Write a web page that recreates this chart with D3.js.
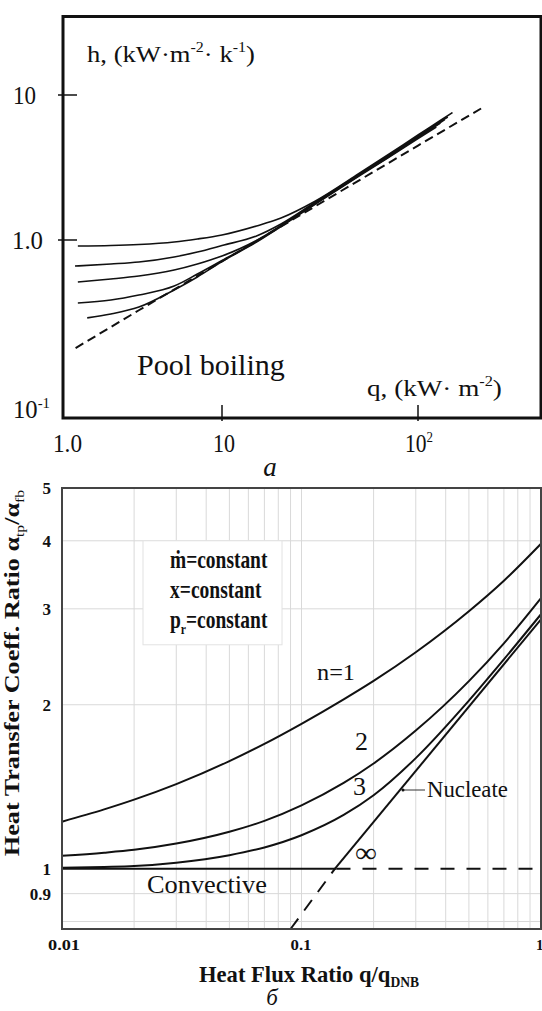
<!DOCTYPE html>
<html>
<head>
<meta charset="utf-8">
<title>Boiling heat transfer</title>
<script src="https://d3js.org/d3.v7.min.js"></script>
<style>
body { margin: 0; background: #fff; }
svg { display: block; }
text { font-family: "Liberation Serif", "Times New Roman", serif; fill: #111; }
</style>
</head>
<body>
<script type="text/javascript">

var width = 542,
    height = 1011;

// ---- chart a: pool boiling, h vs q ----
var curveQ = [
  [1.24, 2, 3, 5, 7, 10, 15, 20, 30, 50, 70, 100, 130, 150],
  [1.19, 2, 3, 5, 7, 10, 15, 20, 30, 50, 70, 100, 130, 142],
  [1.24, 2, 3, 5, 7, 10, 15, 20, 30, 50, 70, 100, 130, 137],
  [1.24, 2, 3, 5, 7, 10, 15, 20, 30, 50, 70, 100, 130],
  [1.42, 2, 3, 5, 7, 10, 15, 20, 30, 50, 70, 100, 124]
];
var curveH = [
  [0.925, 0.931, 0.943, 0.974, 1.016, 1.083, 1.249, 1.418, 1.858, 2.874, 3.857, 5.30, 6.67, 7.57],
  [0.714, 0.733, 0.752, 0.803, 0.856, 0.931, 1.066, 1.289, 1.828, 2.829, 3.796, 5.21, 6.56, 7.05],
  [0.581, 0.604, 0.628, 0.678, 0.733, 0.813, 0.994, 1.259, 1.80, 2.807, 3.736, 5.13, 6.46, 6.78],
  [0.443, 0.460, 0.491, 0.551, 0.644, 0.767, 0.981, 1.249, 1.785, 2.785, 3.707, 5.09, 6.41],
  [0.365, 0.384, 0.420, 0.524, 0.620, 0.757, 0.974, 1.239, 1.771, 2.763, 3.678, 5.01, 6.02]
];
var poolQ = [1.2, 3, 10, 15, 30, 100, 212];
var poolH = [0.247, 0.403, 0.759, 0.988, 1.713, 4.48, 8.13];
var aTicksH = [1, 10];
var aTicksQ = [10, 100];

// ---- chart б: flow boiling ratio vs heat flux ratio ----
var qRatio = [0.01, 0.015, 0.02, 0.03, 0.05, 0.07, 0.1, 0.15, 0.2, 0.3, 0.5, 0.7, 1.0];
var ratioN1 = [1.220, 1.285, 1.339, 1.430, 1.576, 1.695, 1.845, 2.046, 2.212, 2.497, 2.970, 3.379, 3.951];
var ratioN2 = [1.056, 1.070, 1.083, 1.112, 1.169, 1.224, 1.307, 1.437, 1.560, 1.793, 2.210, 2.593, 3.138];
var ratioN3 = [1.004, 1.0076, 1.0115, 1.026, 1.059, 1.094, 1.152, 1.255, 1.364, 1.596, 2.035, 2.423, 2.932];
var nucQ = [0.138, 1.0];
var nucR = [1.0, 2.87];
var nucDashQ = [0.09, 0.138];
var nucDashR = [0.775, 1.0];
var convQ = [0.01, 0.14];
var convDashQ = [0.14, 1.0];
var bTicksY = [0.9, 1, 2, 3, 4, 5];
var bTickLabelsY = ["0.9", "1", "2", "3", "4", "5"];
var bTicksX = [0.01, 0.1, 1];
var bTickLabelsX = ["0.01", "0.1", "1"];
var bGridX = [0.02, 0.03, 0.04, 0.05, 0.06, 0.07, 0.08, 0.09, 0.1, 0.2, 0.3, 0.4, 0.5, 0.6, 0.7, 0.8, 0.9];
var bGridY = [0.8, 0.9, 2, 3, 4];

var svg = d3.select("body").append("svg")
    .attr("width", width)
    .attr("height", height);

// text helper: parts are strings or [string, "sup"|"sub"]; w fits the width
function label(g, x, y, o, parts) {
  var size = o.size;
  var t = g.append("text")
    .style("font-size", size + "px")
    .style("font-weight", o.weight || "normal")
    .style("font-style", o.style || "normal")
    .attr("text-anchor", o.anchor || "start");
  var cur = 0;
  parts.forEach(function(p) {
    var s = typeof p === "string" ? p : p[0],
        kind = typeof p === "string" ? "n" : p[1];
    var off = kind === "sup" ? -0.42 * size : kind === "sub" ? 0.22 * size : 0;
    var ts = t.append("tspan").attr("dy", off - cur).text(s);
    if (kind !== "n") ts.style("font-size", (0.6 * size) + "px").style("font-weight", o.subWeight || null);
    cur = off;
  });
  var sx = 1;
  if (o.w) sx = o.w / t.node().getBBox().width;
  var tr = "translate(" + x + "," + y + ")" + (o.rotate ? " rotate(" + o.rotate + ")" : "") +
           " scale(" + sx + "," + (o.sy || 1) + ")";
  t.attr("transform", tr);
  return t;
}

// ================= chart a =================
var xa = d3.scaleLog().domain([1, 10, 100, 425]).range([63, 222, 418, 541]);
var ya = d3.scaleLog().domain([0.1, 1, 10, 35.6]).range([418, 240, 95, 15]);

var ga = svg.append("g").attr("class", "chart-a");

ga.selectAll("path.boil")
  .data(curveQ.map(function(qs, i) { return qs.map(function(q, j) { return [q, curveH[i][j]]; }); }))
  .enter().append("path")
  .attr("class", "boil")
  .attr("fill", "none")
  .attr("stroke", "#111")
  .attr("stroke-width", 1.6)
  .attr("d", d3.line().x(function(d) { return xa(d[0]); }).y(function(d) { return ya(d[1]); }).curve(d3.curveMonotoneX));

ga.append("path")
  .datum(poolQ.map(function(q, i) { return [q, poolH[i]]; }))
  .attr("fill", "none")
  .attr("stroke", "#111")
  .attr("stroke-width", 2)
  .attr("stroke-dasharray", "9,5")
  .attr("d", d3.line().x(function(d) { return xa(d[0]); }).y(function(d) { return ya(d[1]); }));

ga.append("rect")
  .attr("x", xa(1)).attr("y", ya(35.6) + 1.5)
  .attr("width", xa(425) - xa(1)).attr("height", ya(0.1) - ya(35.6) - 1.5)
  .attr("fill", "none").attr("stroke", "#111").attr("stroke-width", 3);

ga.selectAll("line.yt").data(aTicksH).enter().append("line")
  .attr("x1", 58).attr("x2", 77)
  .attr("y1", function(d) { return ya(d); }).attr("y2", function(d) { return ya(d); })
  .attr("stroke", "#111").attr("stroke-width", 1.5);
ga.selectAll("line.xt").data(aTicksQ).enter().append("line")
  .attr("y1", 405).attr("y2", 421)
  .attr("x1", function(d) { return xa(d); }).attr("x2", function(d) { return xa(d); })
  .attr("stroke", "#111").attr("stroke-width", 1.5);

label(ga, 13, ya(10) + 8.5, { size: 25, w: 23 }, ["10"]);
label(ga, 12, ya(1) + 8.5, { size: 25, w: 31 }, ["1.0"]);
label(ga, 13, 418, { size: 25, w: 37 }, ["10", ["-1", "sup"]]);
label(ga, 53, 452, { size: 25, w: 29 }, ["1.0"]);
label(ga, xa(10) - 9, 452, { size: 25, w: 22 }, ["10"]);
label(ga, xa(100) - 13, 452, { size: 25, w: 28 }, ["10", ["2", "sup"]]);
label(ga, 87, 62, { size: 23, w: 168 }, ["h, (kW\u00b7m", ["-2", "sup"], "\u00b7 k", ["-1", "sup"], ")"]);
label(ga, 137, 375, { size: 30, w: 148 }, ["Pool boiling"]);
label(ga, 367, 396, { size: 24, w: 135 }, ["q, (kW\u00b7 m", ["-2", "sup"], ")"]);
label(ga, 270, 476, { size: 27, style: "italic", anchor: "middle" }, ["a"]);

// ================= chart б =================
var xb = d3.scaleLog().domain([0.01, 1]).range([62, 541]);
var yb = d3.scaleLog().domain([0.775, 5]).range([929, 488]);

var gb = svg.append("g").attr("class", "chart-b");

gb.selectAll("line.gx").data(bGridX).enter().append("line")
  .attr("x1", function(d) { return xb(d); }).attr("x2", function(d) { return xb(d); })
  .attr("y1", yb(5)).attr("y2", yb(0.775))
  .attr("stroke", "#d9d9d9").attr("stroke-width", 1);
gb.selectAll("line.gy").data(bGridY).enter().append("line")
  .attr("y1", function(d) { return yb(d); }).attr("y2", function(d) { return yb(d); })
  .attr("x1", xb(0.01)).attr("x2", xb(1))
  .attr("stroke", "#d9d9d9").attr("stroke-width", 1);

// legend box
gb.append("rect")
  .attr("x", 143).attr("y", yb(4))
  .attr("width", 139).attr("height", 104)
  .attr("fill", "#fff").attr("stroke", "#e2e2e2").attr("stroke-width", 1);

var lineB = d3.line().x(function(d) { return xb(d[0]); }).y(function(d) { return yb(d[1]); }).curve(d3.curveMonotoneX);

gb.selectAll("path.nc")
  .data([ratioN1, ratioN2, ratioN3].map(function(s) { return qRatio.map(function(q, i) { return [q, s[i]]; }); }))
  .enter().append("path")
  .attr("class", "nc")
  .attr("fill", "none").attr("stroke", "#111").attr("stroke-width", 2)
  .attr("d", lineB);

gb.append("path")
  .datum(nucQ.map(function(q, i) { return [q, nucR[i]]; }))
  .attr("fill", "none").attr("stroke", "#111").attr("stroke-width", 2)
  .attr("d", lineB);
gb.append("path")
  .datum(nucDashQ.map(function(q, i) { return [q, nucDashR[i]]; }))
  .attr("fill", "none").attr("stroke", "#111").attr("stroke-width", 2)
  .attr("stroke-dasharray", "13,10")
  .attr("d", lineB);
gb.append("path")
  .datum(convQ.map(function(q) { return [q, 1]; }))
  .attr("fill", "none").attr("stroke", "#111").attr("stroke-width", 2)
  .attr("d", lineB);
gb.append("path")
  .datum(convDashQ.map(function(q) { return [q, 1]; }))
  .attr("fill", "none").attr("stroke", "#111").attr("stroke-width", 2)
  .attr("stroke-dasharray", "14,12")
  .attr("d", lineB);

gb.append("rect")
  .attr("x", xb(0.01)).attr("y", yb(5))
  .attr("width", xb(1) - xb(0.01)).attr("height", yb(0.775) - yb(5))
  .attr("fill", "none").attr("stroke", "#444").attr("stroke-width", 2);

// tick labels
bTicksY.forEach(function(v, i) {
  label(gb, 51, yb(v) + 6, { size: 17, weight: "bold", anchor: "end" }, [bTickLabelsY[i]]);
});
label(gb, 48, 950, { size: 15, weight: "bold", w: 32 }, [bTickLabelsX[0]]);
label(gb, xb(0.1) - 11, 950, { size: 15, weight: "bold", w: 21 }, [bTickLabelsX[1]]);
label(gb, 536, 950, { size: 15, weight: "bold" }, [bTickLabelsX[2]]);

label(gb, 199, 982, { size: 22.6, weight: "bold" }, ["Heat Flux Ratio q/q", ["DNB", "sub"]]);
label(gb, 19, 673, { size: 22, weight: "bold", anchor: "middle", rotate: -90, w: 367, subWeight: "normal" },
  ["Heat Transfer Coeff. Ratio \u03b1", ["tp", "sub"], "/\u03b1", ["fb", "sub"]]);

label(gb, 170, 568, { size: 25, weight: "bold", w: 98 }, ["\u1e41=constant"]);
label(gb, 170, 598, { size: 25, weight: "bold", w: 92 }, ["x=constant"]);
label(gb, 170, 628, { size: 25, weight: "bold", w: 98 }, ["p", ["r", "sub"], "=constant"]);

label(gb, 317, 680, { size: 24, w: 38 }, ["n=1"]);
label(gb, 355, 750, { size: 26 }, ["2"]);
label(gb, 353, 795, { size: 26 }, ["3"]);
label(gb, 355, 862, { size: 28, w: 22 }, ["\u221e"]);
label(gb, 427, 797, { size: 23, w: 81 }, ["Nucleate"]);
label(gb, 147, 893, { size: 26, w: 120 }, ["Convective"]);

gb.append("line")
  .attr("x1", 403).attr("x2", 425).attr("y1", 790).attr("y2", 790)
  .attr("stroke", "#333").attr("stroke-width", 1);
gb.append("circle").attr("cx", 403).attr("cy", 790).attr("r", 1.5).attr("fill", "#111");

label(svg, 272, 1005, { size: 23, style: "italic", anchor: "middle" }, ["\u0431"]);

</script>
</body>
</html>
